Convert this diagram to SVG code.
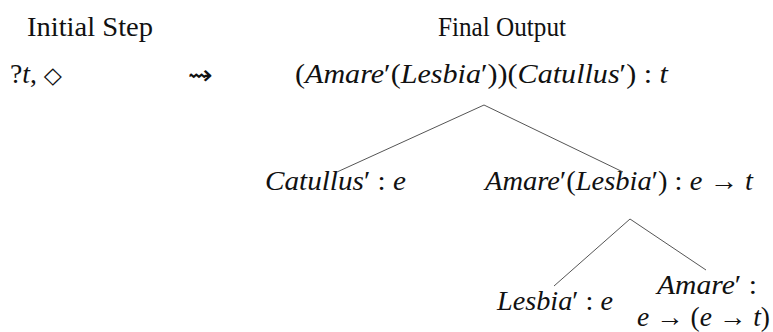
<svg xmlns="http://www.w3.org/2000/svg" width="773" height="332" viewBox="0 0 773 332">
<style>
.hd{font-family:"Liberation Serif",serif;font-size:28px;fill:#111}
.m{font-family:"Liberation Serif","DejaVu Serif",serif;font-size:27px;fill:#111}
.i{font-style:italic}
.sym{font-family:"DejaVu Sans",sans-serif}
.edge{stroke:#555;stroke-width:1;fill:none}
</style>
<rect width="773" height="332" fill="#fff"/>
<g id="header-initial"><text class="hd" x="27" y="36" textLength="126" lengthAdjust="spacingAndGlyphs">Initial Step</text></g>
<g id="header-final"><text class="hd" x="438" y="36" textLength="128" lengthAdjust="spacingAndGlyphs">Final Output</text></g>
<g id="initial"><text class="m" x="10" y="83" textLength="52" lengthAdjust="spacingAndGlyphs">?<tspan class="i">t</tspan>, <tspan class="sym" font-size="23">◇</tspan></text></g>
<g id="leadsto"><text class="m sym" x="188" y="84" font-size="20" font-weight="normal" textLength="25" lengthAdjust="spacingAndGlyphs">⇝</text></g>
<g id="root"><text class="m" x="295" y="83" textLength="373" lengthAdjust="spacingAndGlyphs">(<tspan class="i">Amare</tspan>′(<tspan class="i">Lesbia</tspan>′))(<tspan class="i">Catullus</tspan>′) : <tspan class="i">t</tspan></text></g>
<g id="catullus"><text class="m" x="265" y="190" textLength="141" lengthAdjust="spacingAndGlyphs"><tspan class="i">Catullus</tspan>′ : <tspan class="i">e</tspan></text></g>
<g id="amare-lesbia"><text class="m" x="485" y="190" textLength="268" lengthAdjust="spacingAndGlyphs"><tspan class="i">Amare</tspan>′(<tspan class="i">Lesbia</tspan>′) : <tspan class="i">e</tspan> → <tspan class="i">t</tspan></text></g>
<g id="lesbia"><text class="m" x="497" y="310" textLength="116" lengthAdjust="spacingAndGlyphs"><tspan class="i">Lesbia</tspan>′ : <tspan class="i">e</tspan></text></g>
<g id="amare">
<text class="m" x="657" y="294" textLength="100" lengthAdjust="spacingAndGlyphs"><tspan class="i">Amare</tspan>′ :</text>
<text class="m" x="637" y="326" textLength="133" lengthAdjust="spacingAndGlyphs"><tspan class="i">e</tspan> → (<tspan class="i">e</tspan> → <tspan class="i">t</tspan>)</text>
</g>
<g id="connectors">
<line class="edge" x1="484" y1="105" x2="337" y2="172"/>
<line class="edge" x1="484" y1="105" x2="623" y2="172"/>
<line class="edge" x1="630" y1="219" x2="554" y2="286"/>
<line class="edge" x1="630" y1="219" x2="706" y2="270"/>
</g>
</svg>
